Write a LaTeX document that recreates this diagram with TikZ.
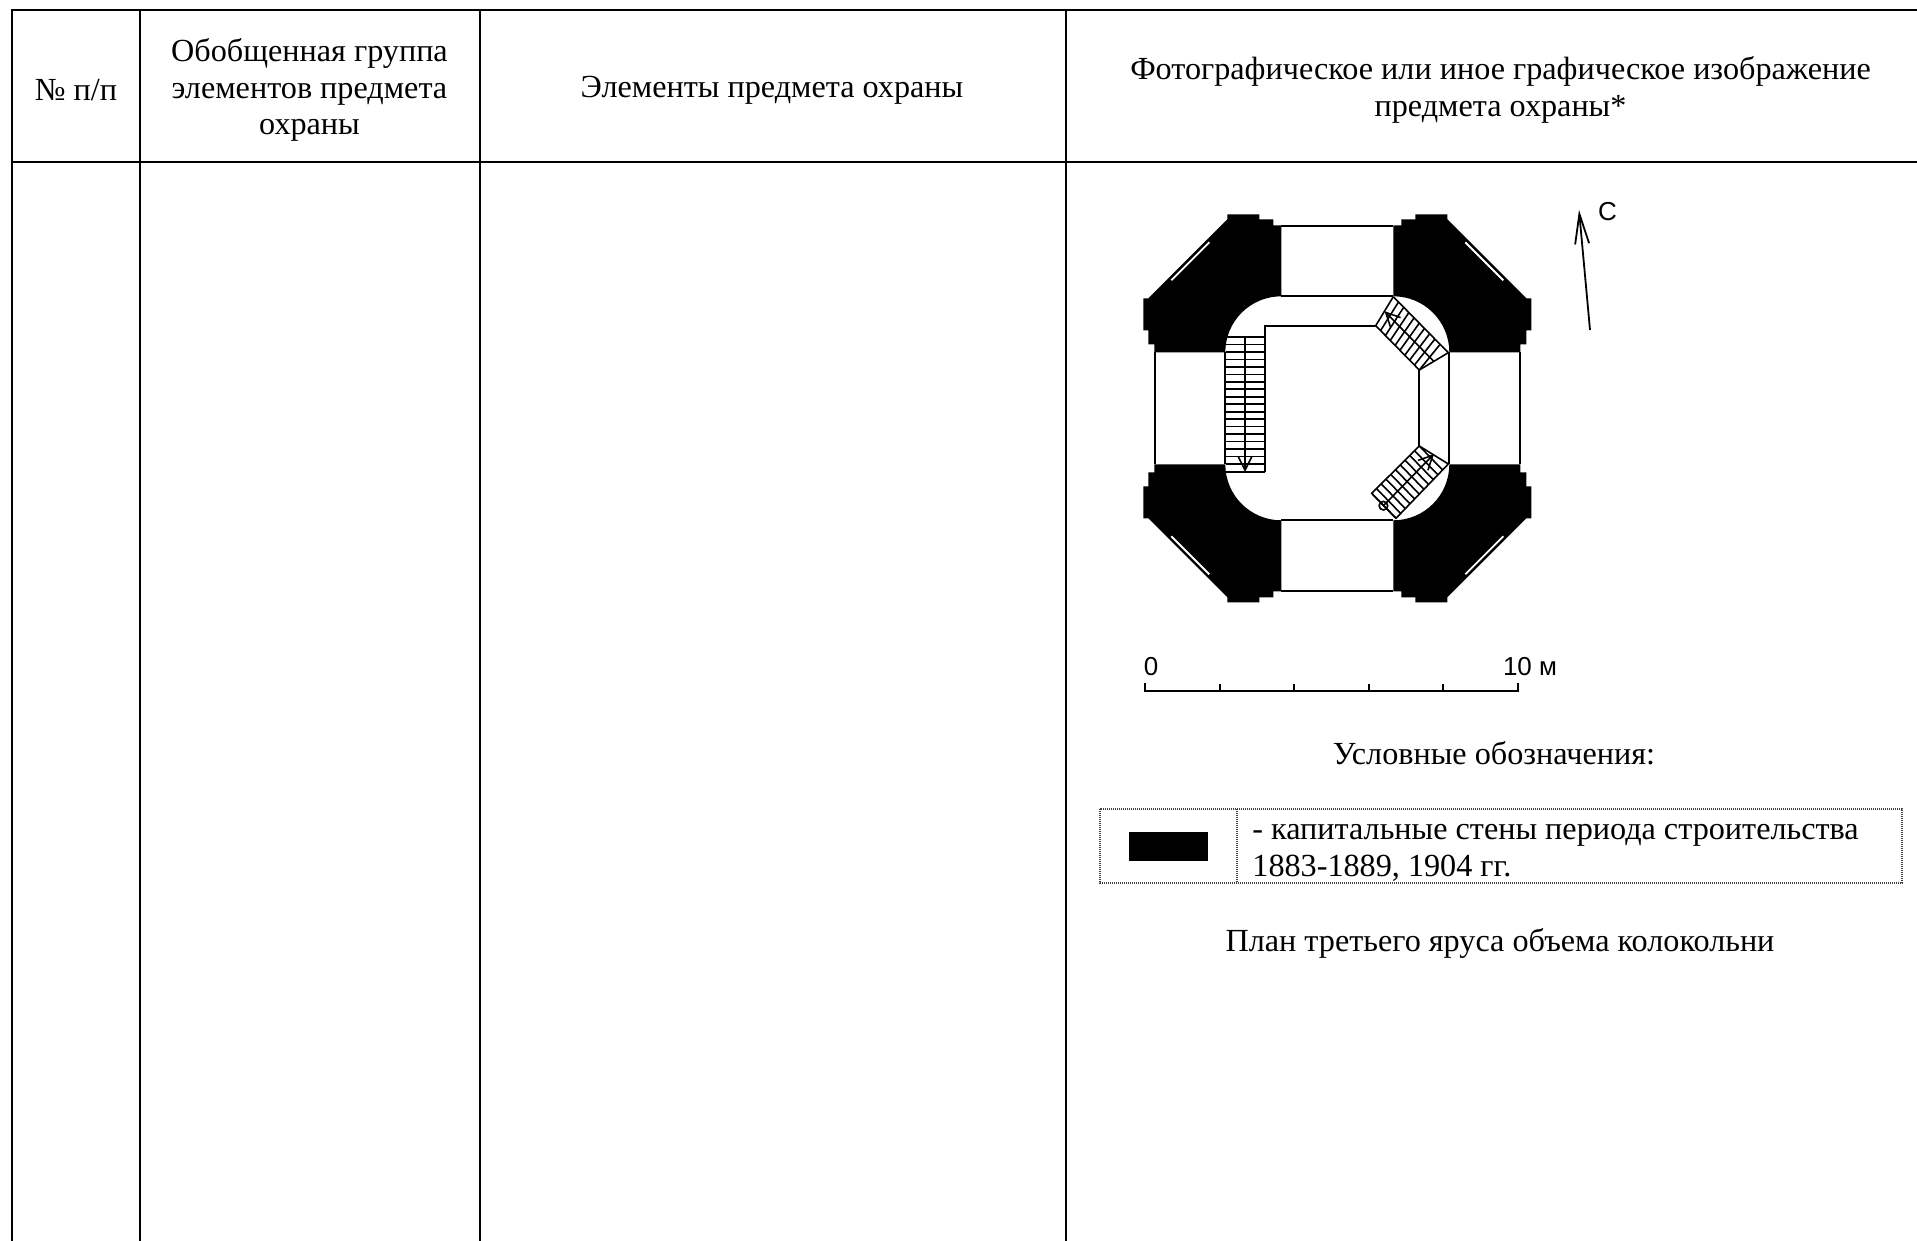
\documentclass[tikz,border=0pt]{standalone}
\usepackage{fontspec}
\setmainfont{Liberation Serif}
\newfontfamily\planfont{Liberation Sans}
\usetikzlibrary{calc,arrows.meta}
\tikzset{cell/.style = {inner sep=0pt, align=center, font=\fontsize{16.1}{18.4}\selectfont},
         rule/.style = {line width=1pt},
         wall/.style = {fill=black, draw=none},
         plan/.style = {line width=.9pt},
         tread/.style = {line width=.8pt},
         walkup/.style = {line width=.8pt, -{Straight Barb[length=7pt,width=7pt]}},
         dots/.style = {line width=.8pt, black!75, dash pattern=on .6pt off .4pt},
         tag/.style = {inner sep=0pt, font=\planfont\fontsize{13}{15}\selectfont}
        }
\begin{document}
\begin{tikzpicture}[x=.5pt,y=-.5pt]
\useasboundingbox (0,0) rectangle (1917,1241);
% table
\draw[rule] (12,1241) -- (12,10) -- (1917,10);
\draw[rule] (12,162) -- (1917,162);
\draw[rule] (140,10) -- (140,1241);
\draw[rule] (480,10) -- (480,1241);
\draw[rule] (1066,10) -- (1066,1241);
\node[cell] at (76,90) (nr) {№ п/п};
\node[cell] at (309.5,90) (grp) {Обобщенная группа\\элементов предмета\\охраны};
\node[cell] at (772,90) (elt) {Элементы предмета охраны};
\node[cell] at (1500.5,90) (img) {Фотографическое или иное графическое изображение\\предмета охраны*};
% walls
\foreach \sx/\sy in {1/1,-1/1,1/-1,-1/-1}{
\begin{scope}[shift={(1337.3,408.3)},xscale=\sx,yscale=\sy]
\fill[wall] (-110,-194) -- (-78,-194) -- (-78,-189) -- (-64,-189) -- (-64,-183) -- (-56,-183) -- (-56,-112)
  .. controls (-87,-112) and (-112,-87) .. (-112,-56) -- (-183,-56) -- (-183,-64) -- (-189,-64) -- (-189,-78)
  -- (-194,-78) -- (-194,-110) -- (-189,-110) -- (-110,-189) -- cycle;
\draw[white,line width=.9pt] (-166,-128) -- (-128,-166);
\draw[plan] (-56,-182.5) -- (56,-182.5);
\draw[plan] (-182.5,-56) -- (-182.5,56);
\draw[plan] (-56,-112) -- (56,-112);
\draw[plan] (-112,-56) -- (-112,56);
\end{scope}
}
% stairs
\draw[plan] (1265,472) -- (1265,326) -- (1375.7,326);
\draw[plan] (1419.3,370) -- (1419.3,446);
\draw[tread] (1226,472) -- (1265,472);
\foreach \k in {0,...,17}
  \draw[tread] (1226,337+\k*7.47) -- (1265,337+\k*7.47);
\coordinate (s1) at (1245,337);
\coordinate (e1) at (1245,472);
\draw[walkup] (s1) -- (e1);
% upper right flight
\coordinate (a2) at (1375.7,325.7);
\coordinate (b2) at (1393.3,296.7);
\coordinate (c2) at (1448.3,352.7);
\coordinate (d2) at (1419.3,370);
\coordinate (q2) at (1440.1,344.3);
\draw[tread] (b2) -- (c2) -- (d2) -- (a2);
\foreach \k in {0,...,9}
  \draw[tread] ($(a2)!\k/9!(d2)$) -- ($(b2)!\k/9!(q2)$);
\coordinate (s2) at (1433.8,361.4);
\coordinate (e2) at (1384.5,311.2);
\draw[walkup] (s2) -- (e2);
% lower right flight
\coordinate (a3) at (1419.3,446);
\coordinate (b3) at (1448.3,464);
\coordinate (c3) at (1396,518.3);
\coordinate (d3) at (1371.7,493.3);
\coordinate (q3) at (1442.6,470);
\draw[tread] (a3) -- (b3) -- (c3) -- (d3) -- cycle;
\foreach \k in {0,...,10}
  \draw[tread] ($(d3)!\k/10!(a3)$) -- ($(c3)!\k/10!(q3)$);
\coordinate (s3) at (1383.4,505.7);
\coordinate (e3) at (1434,454);
\draw[walkup] (s3) -- (e3);
\draw[tread] (s3) circle (4.3);
% north
\coordinate (n0) at (1590,330);
\coordinate (n1) at (1579,210);
\draw[line width=.9pt,-{Straight Barb[length=15pt,width=7pt]}] (n0) -- (n1);
\node[tag] at (1607.5,212) (north) {С};
% scale
\draw[plan] (1145,683) -- (1145,691) -- (1518,691) -- (1518,683);
\foreach \x in {1220,1294,1369,1443}
  \draw[tread] (\x,684) -- (\x,691);
\node[tag] at (1151,667) (zero) {0};
\node[tag] at (1530,667) (ten) {10 м};
% legend
\node[cell] at (1494,753.5) (ttl) {Условные обозначения:};
\draw[dots] (1100,809) rectangle (1902,883);
\draw[dots] (1237,809) -- (1237,883);
\fill[black] (1129,832) rectangle (1208,861);
\node[cell,align=left,anchor=west] at (1252,853) (txt) {- капитальные стены периода строительства\\1883-1889, 1904 гг.};
\node[cell] at (1500,943) (cap) {План третьего яруса объема колокольни};
\end{tikzpicture}
\end{document}
